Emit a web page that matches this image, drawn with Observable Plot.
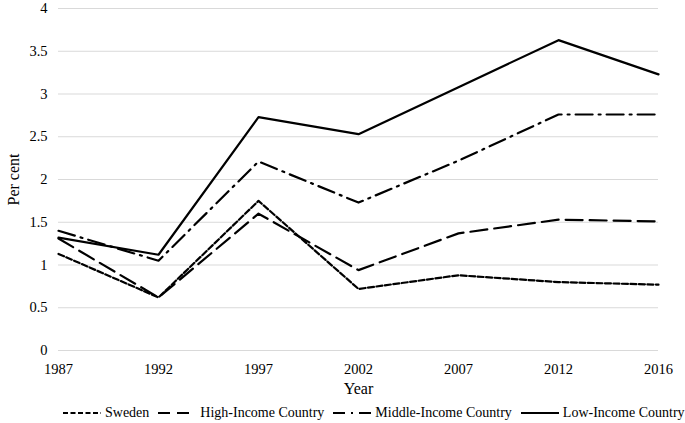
<!DOCTYPE html>
<html>
<head>
<meta charset="utf-8">
<script src="https://cdn.jsdelivr.net/npm/d3@7"></script>
<script src="https://cdn.jsdelivr.net/npm/@observablehq/plot@0.6"></script>
<style>
  body { margin: 0; background: #fff; font-family: "Liberation Serif", "DejaVu Serif", serif; }
  #chart svg text { font-family: "Liberation Serif", "DejaVu Serif", serif !important; }
  #legend { display: flex; align-items: center; height: 21px; padding-left: 63px; font-size: 14px; color: #000; white-space: nowrap; }
  #legend .item { display: flex; align-items: center; margin-right: 9px; }
  #legend svg { margin-right: 4px; }
</style>
</head>
<body>
<div id="chart"></div>
<div id="legend"></div>
<script>
const years = ["1987", "1992", "1997", "2002", "2007", "2012", "2016"];
const sweden = [1.13, 0.62, 1.75, 0.72, 0.88, 0.80, 0.77];
const highIncome = [1.31, 0.62, 1.60, 0.94, 1.37, 1.53, 1.51];
const middleIncome = [1.40, 1.05, 2.21, 1.73, 2.22, 2.76, 2.76];
const lowIncome = [1.32, 1.12, 2.73, 2.53, 3.08, 3.63, 3.23];
const seriesNames = ["Sweden", "High-Income Country", "Middle-Income Country", "Low-Income Country"];
const seriesValues = [sweden, highIncome, middleIncome, lowIncome];
const dashes = ["6,2.5", "17,7", "17,6,2,6", null];
const legendDashes = ["5,2.5", "12,7", "12,6,2,6", null];
const yTicks = [0, 0.5, 1, 1.5, 2, 2.5, 3, 3.5, 4];

const marks = [
  Plot.gridY(yTicks, {stroke: "#d9d9d9", strokeOpacity: 1, strokeWidth: 1.2})
];
seriesValues.forEach((vals, i) => {
  const data = years.map((y, j) => ({year: y, value: vals[j]}));
  marks.push(Plot.lineY(data, {
    x: "year", y: "value", stroke: "#000", strokeWidth: 2.2,
    strokeDasharray: dashes[i] || undefined
  }));
});

const chart = Plot.plot({
  width: 685,
  height: 402,
  marginLeft: 58,
  marginRight: 27,
  marginTop: 8,
  marginBottom: 52,
  style: {fontFamily: "'Liberation Serif', 'DejaVu Serif', serif", fontSize: "14.5px", color: "#000", background: "#fff"},
  x: {type: "point", domain: years, padding: 0, tickSize: 0, tickPadding: 13, label: "Year", labelAnchor: "center", labelOffset: 43},
  y: {domain: [0, 4], ticks: yTicks, tickFormat: d => String(d), tickSize: 0, tickPadding: 11, label: "Per cent", labelAnchor: "center", labelOffset: 51, labelArrow: "none"},
  marks
});
chart.querySelectorAll("g[aria-label='x-axis label'] text, g[aria-label='y-axis label'] text").forEach(t => t.style.fontSize = "16px");
document.getElementById("chart").appendChild(chart);

const legend = document.getElementById("legend");
seriesNames.forEach((name, i) => {
  const item = document.createElement("div");
  item.className = "item";
  const dash = legendDashes[i] ? `stroke-dasharray="${legendDashes[i]}"` : "";
  item.innerHTML = `<svg width="38" height="10"><line x1="0" y1="5" x2="38" y2="5" stroke="#000" stroke-width="2.2" ${dash}/></svg><span>${name}</span>`;
  legend.appendChild(item);
});
</script>
</body>
</html>
